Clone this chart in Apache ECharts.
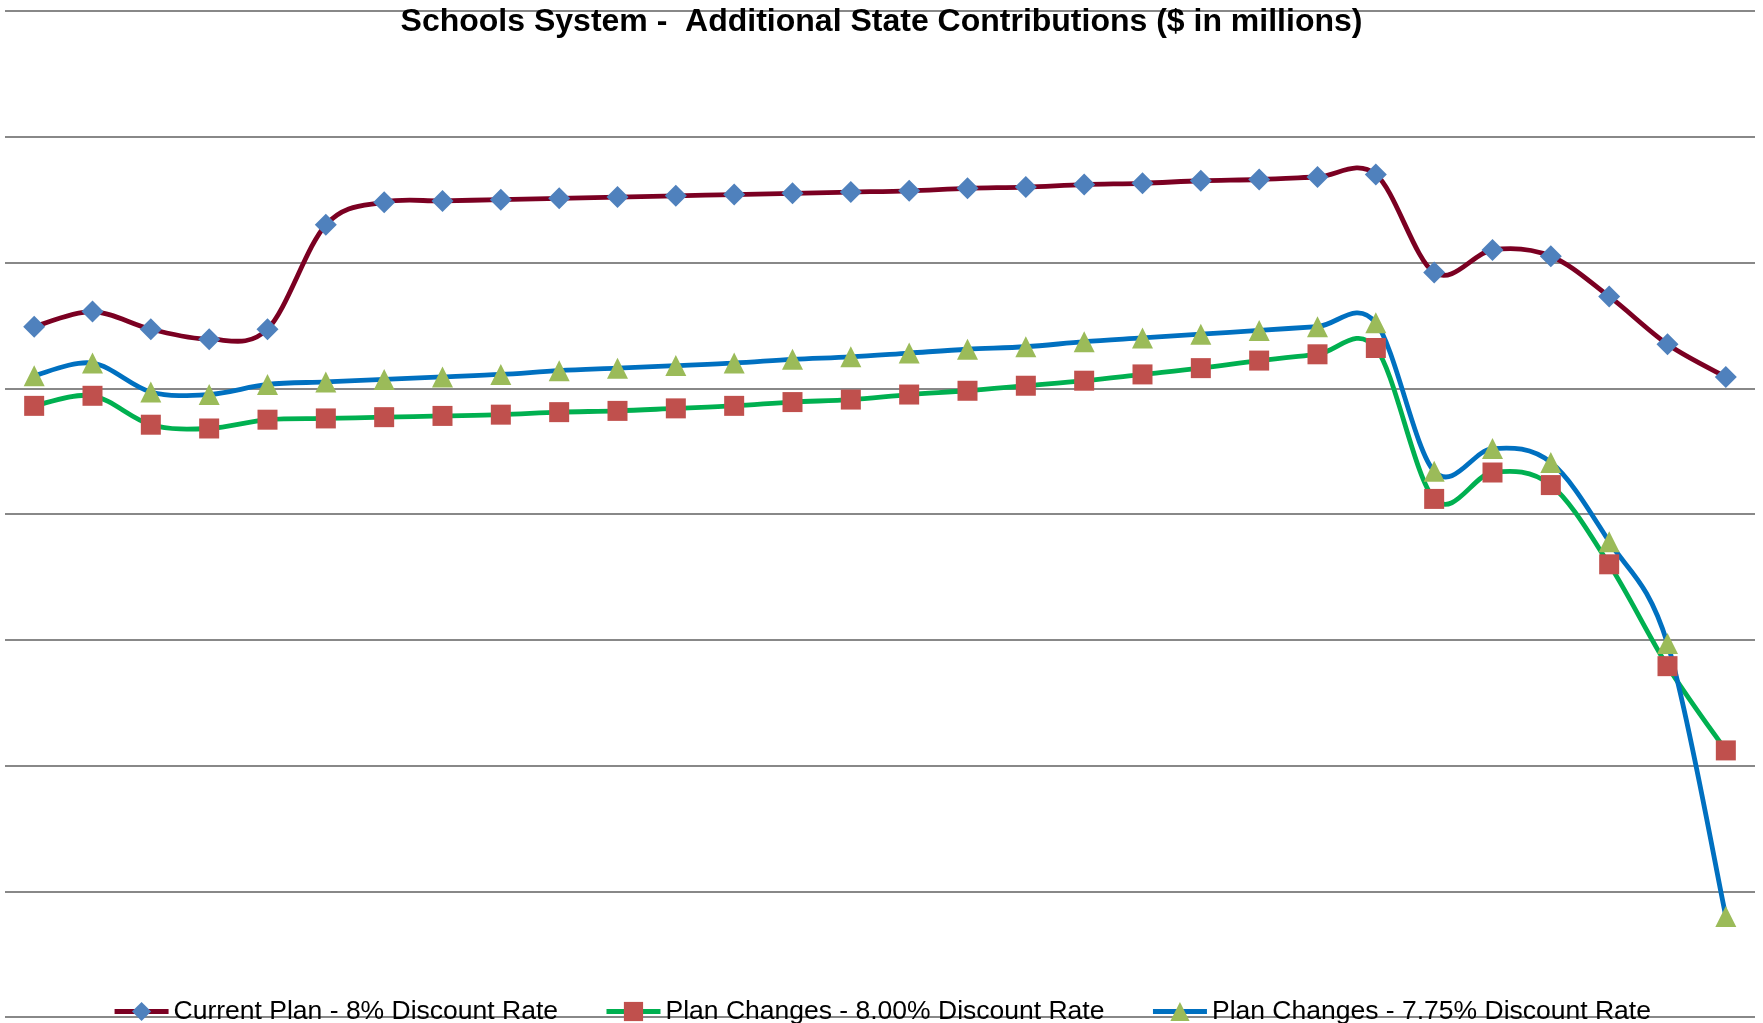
<!DOCTYPE html>
<html>
<head>
<meta charset="utf-8">
<title>Schools System - Additional State Contributions</title>
<script src="https://cdn.jsdelivr.net/npm/echarts@6/dist/echarts.min.js"></script>
<style>
  html, body { margin: 0; padding: 0; background: #fff; }
  #chart { width: 1763px; height: 1023px; }
</style>
</head>
<body>
<div id="chart"></div>
<script>
// values, axis labels are hidden in the original
const years = ['2012', '2013', '2014', '2015', '2016', '2017', '2018', '2019', '2020', '2021',
  '2022', '2023', '2024', '2025', '2026', '2027', '2028', '2029', '2030', '2031',
  '2032', '2033', '2034', '2035', '2036', '2037', '2038', '2039', '2040', '2041']

const currentPlan = [549, 561, 547, 539, 547, 630, 648, 649, 650, 651,
  652, 653, 654, 655, 656, 657, 659, 660, 662, 663,
  665, 666, 668, 670, 592, 610, 605, 573, 535, 509]

const changes800 = [486, 494, 471, 468, 475, 476, 477, 478, 479, 481,
  482, 484, 486, 489, 491, 495, 498, 502, 506, 511,
  516, 522, 527, 532, 412, 433, 423, 360, 279, 212]

const changes775 = [510, 520, 497, 495, 503, 505, 507, 509, 511, 514,
  516, 518, 520, 523, 525, 528, 531, 533, 537, 540,
  543, 546, 549, 552, 434, 452, 441, 378, 297, 80]

const FONT = '"Liberation Sans", Arial, sans-serif'
const LINE_W = 4.8

const chart = echarts.init(document.getElementById('chart'))

// excel style smoothing: bezier handles of (next - prev) / 6
function smoothPath (pts) {
  const n = pts.length
  const tan = pts.map((p, i) => {
    const a = pts[Math.max(i - 1, 0)]
    const b = pts[Math.min(i + 1, n - 1)]
    return [(b[0] - a[0]) / 6, (b[1] - a[1]) / 6]
  })
  let d = 'M' + pts[0][0] + ',' + pts[0][1]
  for (let i = 0; i < n - 1; i++) {
    const p = pts[i]
    const q = pts[i + 1]
    d += 'C' + (p[0] + tan[i][0]) + ',' + (p[1] + tan[i][1]) + ' ' +
      (q[0] - tan[i + 1][0]) + ',' + (q[1] - tan[i + 1][1]) + ' ' + q[0] + ',' + q[1]
  }
  return d
}

function curveSeries (data, color) {
  return {
    type: 'custom',
    silent: true,
    data: data.map((v, i) => [i, v]),
    encode: { x: 0, y: 1 },
    renderItem: function (params, api) {
      if (params.dataIndex !== 0) return null
      const pts = data.map((v, i) => api.coord([i, v]))
      return {
        type: 'path',
        shape: { pathData: smoothPath(pts) },
        style: { stroke: color, lineWidth: LINE_W, fill: null, lineJoin: 'round', lineCap: 'round' }
      }
    },
    animation: false
  }
}

function markSeries (name, data, color, symbol, symbolSize, markColor) {
  return {
    name: name,
    type: 'line',
    data: data,
    symbol: symbol,
    symbolSize: symbolSize,
    showAllSymbol: true,
    lineStyle: { color: color, width: 0 },
    itemStyle: { color: markColor, borderWidth: 0 },
    emphasis: { disabled: true },
    animation: false
  }
}

chart.setOption({
  backgroundColor: '#fff',
  animation: false,
  title: {
    text: 'Schools System -  Additional State Contributions ($ in millions)',
    left: 'center',
    top: 1,
    textStyle: { fontFamily: FONT, fontSize: 32, fontWeight: 'bold', color: '#000' }
  },
  legend: {
    top: 993,
    left: 'center',
    itemWidth: 54,
    itemHeight: 24,
    itemGap: 46,
    lineStyle: { width: 5 },
    textStyle: { fontFamily: FONT, fontSize: 26.5, color: '#000' },
    data: ['Current Plan - 8% Discount Rate', 'Plan Changes - 8.00% Discount Rate', 'Plan Changes - 7.75% Discount Rate']
  },
  grid: { left: 5, right: 8, top: 11, bottom: 6 },
  xAxis: {
    type: 'category',
    data: years,
    boundaryGap: true,
    axisLine: { show: false },
    axisTick: { show: false },
    axisLabel: { show: false }
  },
  yAxis: {
    type: 'value',
    min: 0,
    max: 800,
    interval: 100,
    axisLine: { show: false },
    axisTick: { show: false },
    axisLabel: { show: false },
    splitLine: { lineStyle: { color: '#888', width: 2 } }
  },
  series: [
    curveSeries(currentPlan, '#7b0022'),
    markSeries('Current Plan - 8% Discount Rate', currentPlan, '#7b0022', 'diamond', 22, '#4f81bd'),
    curveSeries(changes800, '#00b050'),
    markSeries('Plan Changes - 8.00% Discount Rate', changes800, '#00b050', 'rect', 20, '#c0504d'),
    curveSeries(changes775, '#0070c0'),
    markSeries('Plan Changes - 7.75% Discount Rate', changes775, '#0070c0', 'triangle', 21, '#9bbb59')
  ]
})
</script>
</body>
</html>
